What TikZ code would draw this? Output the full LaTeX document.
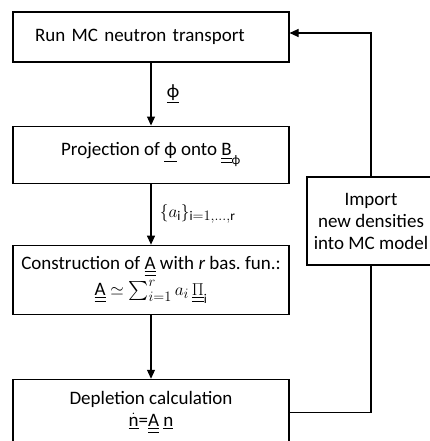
\documentclass[tikz,border=0pt]{standalone}
\usepackage{amsmath,amssymb}
\usepackage{fontspec}
\setmainfont{Carlito}
\usetikzlibrary{arrows.meta,positioning}
\newcommand{\dund}[1]{$\underline{\underline{\text{#1}}}$}
\newcommand{\sund}[1]{$\underline{\text{#1}}$}
\newcommand{\mdund}[1]{\underline{\underline{#1}}}

\begin{document}
\begin{tikzpicture}[
  stepbox/.style={draw, line width=1.1pt, minimum width=276pt, align=center, inner sep=4pt, font=\fontsize{19}{22}\selectfont},
  arr/.style={-{Triangle[length=9pt,width=8pt]}, line width=1.1pt},
  lbl/.style={font=\fontsize{19}{22}\selectfont}]
  \useasboundingbox (0,0) rectangle (430pt,-441pt);
  \clip (0,0) rectangle (430pt,-441pt);
  \node[stepbox, minimum height=50pt, text width=232pt, inner xsep=22pt, align=left] (run) at (151pt,-37pt) {Run MC neutron transport};
  \node[stepbox, minimum height=57pt, below=63pt of run] (proj) {Projection of \sund{ϕ} onto $\mdund{\text{B}}_{\text{ϕ}}$};
  \node[stepbox, minimum height=69pt, below=61pt of proj] (cons) {Construction of \dund{A} with \textit{r} bas.\ fun.:\\[3pt] $\mdund{\text{A}} \simeq \sum_{i=1}^{r} a_i\,\mdund{\Pi}_{\mathrm{i}}$};
  \node[stepbox, minimum height=66pt, below=64pt of cons] (depl) {Depletion calculation\\ $\underline{\dot{\text{n}}}$=\dund{A} \sund{n}};
  \node[stepbox, minimum width=128pt, minimum height=88pt] (imp) at (371pt,-221pt) {Import\\ new densities\\ into MC model};
  \draw[arr] (run) -- node[lbl, right=12pt] {\sund{ϕ}} (proj);
  \draw[arr] (proj) -- node[lbl, right=5pt] {$\{a_{\mathrm{i}}\}_{\mathrm{i}=1,\ldots,\mathrm{r}}$} (cons);
  \draw[arr] (cons) -- (depl);
  \draw[line width=1.1pt] (depl.east) -| (imp.south);
  \draw[arr] (imp.north) |- ([yshift=4pt]run.east);
\end{tikzpicture}
\end{document}
